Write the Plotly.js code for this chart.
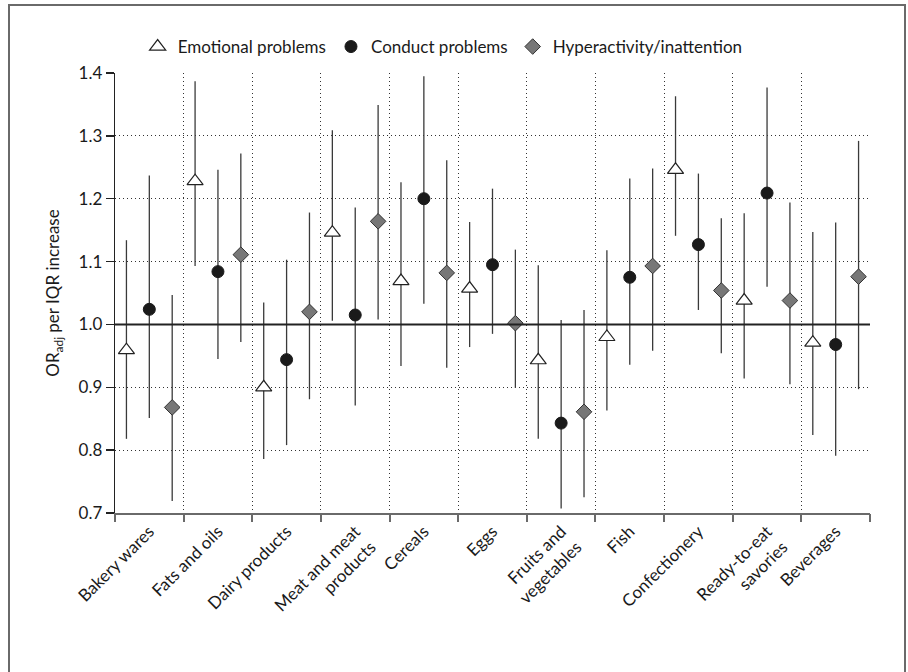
<!DOCTYPE html>
<html>
<head>
<meta charset="utf-8">
<script src="https://cdn.plot.ly/plotly-3.0.1.min.js"></script>
<style>
  html, body { margin: 0; padding: 0; background: #ffffff; }
  #wrap { position: relative; width: 908px; height: 672px; overflow: hidden; }
  #chart { position: absolute; left: 0; top: 0; width: 908px; height: 672px; }
  #frame { position: absolute; left: 8px; top: 4px; width: 894px; height: 700px;
           border: 2px solid #6a6a6a; pointer-events: none; z-index: 10; }
</style>
</head>
<body>
<div id="wrap">
  <div id="chart"></div>
  <div id="frame"></div>
</div>
<script>
// ---- data ----
const categories = [
  "Bakery wares", "Fats and oils", "Dairy products", "Meat and meat<br>products",
  "Cereals", "Eggs", "Fruits and<br>vegetables", "Fish", "Confectionery",
  "Ready-to-eat<br>savories", "Beverages"
];

// Emotional problems: OR, lower CI, upper CI
const emoOR = [0.959, 1.228, 0.900, 1.146, 1.069, 1.057, 0.943, 0.980, 1.246, 1.038, 0.971];
const emoLo = [0.818, 1.093, 0.786, 1.006, 0.934, 0.964, 0.818, 0.863, 1.141, 0.914, 0.824];
const emoHi = [1.134, 1.387, 1.035, 1.309, 1.226, 1.163, 1.094, 1.118, 1.363, 1.177, 1.147];

// Conduct problems
const conOR = [1.024, 1.084, 0.944, 1.015, 1.200, 1.095, 0.843, 1.075, 1.127, 1.209, 0.968];
const conLo = [0.851, 0.945, 0.808, 0.871, 1.033, 0.985, 0.707, 0.936, 1.023, 1.060, 0.791];
const conHi = [1.237, 1.246, 1.103, 1.186, 1.395, 1.216, 1.007, 1.232, 1.240, 1.377, 1.162];

// Hyperactivity/inattention
const hypOR = [0.868, 1.111, 1.020, 1.164, 1.082, 1.002, 0.861, 1.093, 1.054, 1.038, 1.076];
const hypLo = [0.719, 0.972, 0.881, 1.008, 0.931, 0.899, 0.725, 0.958, 0.954, 0.905, 0.897];
const hypHi = [1.047, 1.272, 1.178, 1.349, 1.261, 1.119, 1.023, 1.248, 1.169, 1.194, 1.292];

const seriesNames = ["Emotional problems", "Conduct problems", "Hyperactivity/inattention"];
const yTickVals = [0.7, 0.8, 0.9, 1.0, 1.1, 1.2, 1.3, 1.4];
const yTickText = ["0.7", "0.8", "0.9", "1.0", "1.1", "1.2", "1.3", "1.4"];
const NULL_OR = 1.0;

// ---- layout helpers ----
const idx = categories.map((_, i) => i);
const XRANGE = [-0.5, categories.length - 0.5];
const boundaries = categories.concat([""]).map((_, i) => i - 0.5);
const groupOffset = 1 / 3;
const FONT = "Lato, 'Open Sans', sans-serif";
const FS = 17;

function errBar(or, lo, hi) {
  return {
    type: "data", symmetric: false,
    array: hi.map((h, i) => h - or[i]),
    arrayminus: lo.map((l, i) => or[i] - l),
    width: 0, thickness: 1.3, color: "#3a3a3a"
  };
}

const traces = [
  {
    // null-effect reference line (OR = 1), also carries the boundary grid axis
    type: "scatter", mode: "lines", xaxis: "x2", yaxis: "y",
    x: XRANGE, y: [NULL_OR, NULL_OR],
    line: { color: "#222", width: 2 }, showlegend: false, hoverinfo: "skip"
  },
  {
    name: seriesNames[0], type: "scatter", mode: "markers",
    x: idx.map(i => i - groupOffset), y: emoOR,
    error_y: errBar(emoOR, emoLo, emoHi),
    marker: { symbol: "triangle-up", size: 14, color: "#ffffff", line: { color: "#222", width: 1.2 } }
  },
  {
    name: seriesNames[1], type: "scatter", mode: "markers",
    x: idx.map(i => i), y: conOR,
    error_y: errBar(conOR, conLo, conHi),
    marker: { symbol: "circle", size: 12, color: "#1a1a1a", line: { color: "#1a1a1a", width: 1 } }
  },
  {
    name: seriesNames[2], type: "scatter", mode: "markers",
    x: idx.map(i => i + groupOffset), y: hypOR,
    error_y: errBar(hypOR, hypLo, hypHi),
    marker: { symbol: "diamond", size: 12, color: "#777777", line: { color: "#333", width: 1 } }
  }
];

const layout = {
  width: 908, height: 672,
  margin: { l: 115, r: 38, t: 73, b: 159 },
  paper_bgcolor: "#ffffff", plot_bgcolor: "#ffffff",
  font: { family: FONT, size: FS, color: "#1a1a1a" },
  showlegend: true,
  legend: {
    orientation: "h", x: 0.03, xanchor: "left", y: 1.1, yanchor: "top",
    font: { family: FONT, size: FS, color: "#1a1a1a" },
    itemsizing: "trace", traceorder: "normal"
  },
  xaxis: {
    range: XRANGE, tickmode: "array", tickvals: idx, ticktext: categories,
    tickangle: -45, ticks: "", showgrid: false, zeroline: false,
    showline: true, linecolor: "#6a6a6a", linewidth: 2,
    tickfont: { family: FONT, size: FS, color: "#1a1a1a" }
  },
  xaxis2: {
    overlaying: "x", anchor: "y", side: "bottom", range: XRANGE,
    tickmode: "array", tickvals: boundaries, showticklabels: false,
    ticks: "outside", ticklen: 8, tickcolor: "#6a6a6a", tickwidth: 2,
    showgrid: true, gridcolor: "#333333", griddash: "1px,3px", gridwidth: 1,
    zeroline: false, showline: false
  },
  yaxis: {
    range: [0.7, 1.4], tickmode: "array", tickvals: yTickVals, ticktext: yTickText,
    ticks: "outside", ticklen: 8, tickcolor: "#222", tickwidth: 1.3,
    showgrid: true, gridcolor: "#333333", griddash: "1px,3px", gridwidth: 1,
    zeroline: false, showline: true, linecolor: "#222", linewidth: 1.3,
    tickfont: { family: FONT, size: FS, color: "#1a1a1a" },
    title: { text: "OR<sub>adj</sub> per IQR increase", standoff: 14,
             font: { family: FONT, size: FS, color: "#1a1a1a" } }
  }
};

Plotly.newPlot("chart", traces, layout, { displayModeBar: false, staticPlot: true });
</script>
</body>
</html>
